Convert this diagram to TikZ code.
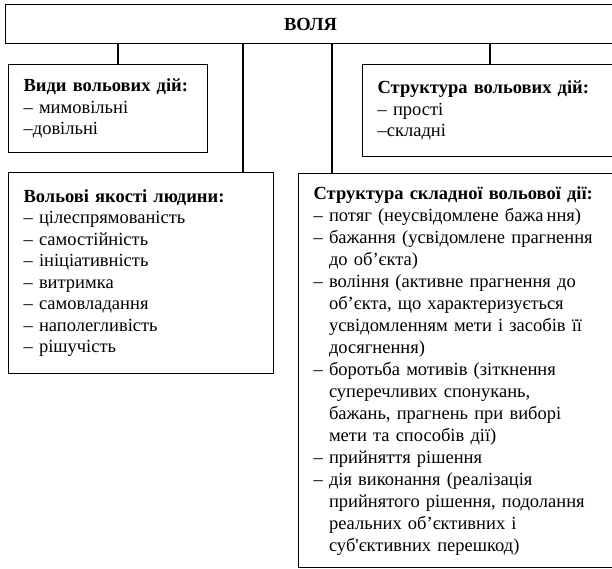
\documentclass[tikz,border=0pt]{standalone}
\usepackage{fontspec}
\setmainfont{Liberation Serif}
\newfontfamily\rawserif{Liberation Serif}
\usetikzlibrary{positioning}
\newcommand{\apos}{{\rawserif '}}
\newcommand{\ind}{\hphantom{– }}
\tikzset{
  box/.style = {draw, line width=1.2pt, rectangle, anchor=north west, align=left, inner xsep=15pt, inner ysep=0pt, font=\fontsize{18.5}{21.5}\selectfont},
  head/.style = {draw, line width=1.2pt, rectangle, anchor=north west, inner sep=0pt, font=\fontsize{18.5}{21.5}\selectfont\bfseries},
  line/.style = {line width=1.2pt},
}

\begin{document}
\begin{tikzpicture}[x=1pt, y=-1pt]
  \clip (0,0) rectangle (612,568);

  \node[head, minimum width=610pt, minimum height=39pt] (volya) at (5,4) {ВОЛЯ};

  \node[box, text width=169pt, minimum height=88pt] (vydy) at (8,64)
    {\textbf{Види вольових дій:}\\– мимовільні\\–довільні};
  \node[box, text width=235pt, minimum height=201pt] (yakosti) at (8,172)
    {\textbf{Вольові якості людини:}\\– цілеспрямованість\\– самостійність\\– ініціативність\\– витримка\\– самовладання\\– наполегливість\\– рішучість};
  \node[box, text width=240pt, minimum height=92pt] (struktura) at (362,64)
    {\textbf{Структура вольових дій:}\\– прості\\–складні};
  \node[box, text width=300pt, minimum height=394pt, font=\fontsize{18.5}{22}\selectfont] (skladna) at (298,173)
    {\textbf{Структура складної вольової дії:}\\
     – потяг (неусвідомлене бажа\,ння)\\
     – бажання (усвідомлене прагнення\\
     \ind до об’єкта)\\
     – воління (активне прагнення до\\
     \ind об’єкта, що характеризується\\
     \ind усвідомленням мети і засобів її\\
     \ind досягнення)\\
     – боротьба мотивів (зіткнення\\
     \ind суперечливих спонукань,\\
     \ind бажань, прагнень при виборі\\
     \ind мети та способів дії)\\
     – прийняття рішення\\
     – дія виконання (реалізація\\
     \ind прийнятого рішення, подолання\\
     \ind реальних об’єктивних і\\
     \ind суб\apos єктивних перешкод)};

  % connectors from the top box
  \draw[line] ([xshift=110pt]vydy.north west) -- ([xshift=110pt]vydy.north west |- volya.south);
  \draw[line] ([xshift=235pt]yakosti.north west) -- ([xshift=235pt]yakosti.north west |- volya.south);
  \draw[line] ([xshift=34pt]skladna.north west) -- ([xshift=34pt]skladna.north west |- volya.south);
  \draw[line] ([xshift=128pt]struktura.north west) -- ([xshift=128pt]struktura.north west |- volya.south);

\end{tikzpicture}
\end{document}
